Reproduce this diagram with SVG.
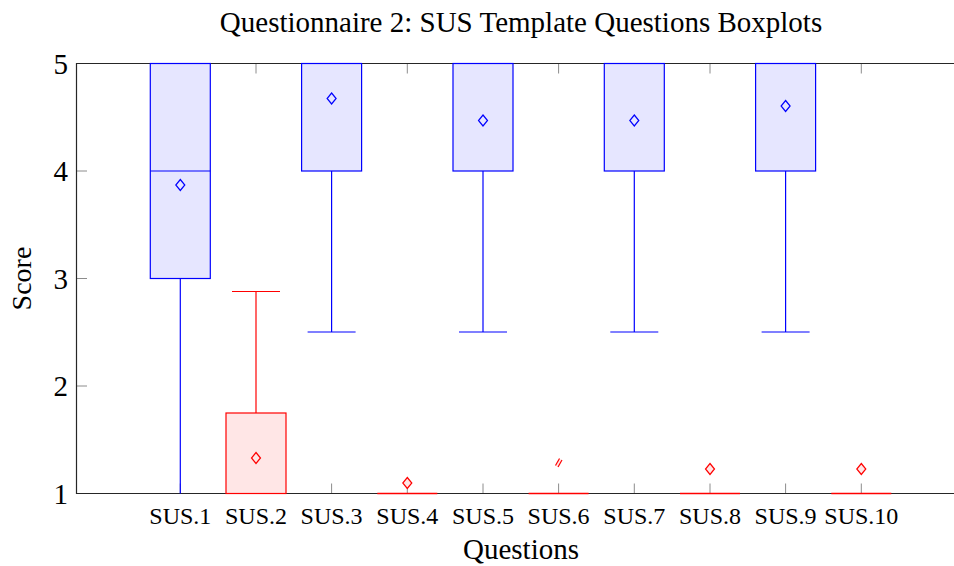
<svg xmlns="http://www.w3.org/2000/svg" width="954" height="566" viewBox="0 0 954 566">
<style>
text{font-family:"Liberation Serif","Times New Roman",serif;fill:#000}
.tl{font-size:29px;text-anchor:end}
.xl{font-size:24px;text-anchor:middle}
.bb{fill:#e6e6ff;stroke:#0000ff;stroke-width:1.2}
.rb{fill:#ffe6e6;stroke:#ff0000;stroke-width:1.2}
.bl{stroke:#0000ff;stroke-width:1.2;fill:none}
.rl{stroke:#ff0000;stroke-width:1.2;fill:none}
.bm{fill:#e6e6ff;stroke:#0000ff;stroke-width:1.2}
.rm{fill:#ffe6e6;stroke:#ff0000;stroke-width:1.2}
.tk{stroke:#8c8c8c;stroke-width:1}
.ax{stroke:#262626;stroke-width:1.2;fill:none}
</style>
<defs>
<path id="dia" d="M0,-5.5 L4.5,0 L0,5.5 L-4.5,0 Z"/>
</defs>
<rect width="954" height="566" fill="#fff"/>
<text x="521" y="32" style="font-size:29px;text-anchor:middle">Questionnaire 2: SUS Template Questions Boxplots</text>
<g id="axis">
<g class="tk">
<line x1="76.5" y1="171" x2="87" y2="171"/>
<line x1="76.5" y1="278.5" x2="87" y2="278.5"/>
<line x1="76.5" y1="386" x2="87" y2="386"/>
<line x1="180.3" y1="63.5" x2="180.3" y2="73.5"/><line x1="180.3" y1="493.5" x2="180.3" y2="483.5"/>
<line x1="256" y1="63.5" x2="256" y2="73.5"/><line x1="256" y1="493.5" x2="256" y2="483.5"/>
<line x1="331.6" y1="63.5" x2="331.6" y2="73.5"/><line x1="331.6" y1="493.5" x2="331.6" y2="483.5"/>
<line x1="407.3" y1="63.5" x2="407.3" y2="73.5"/><line x1="407.3" y1="493.5" x2="407.3" y2="483.5"/>
<line x1="483" y1="63.5" x2="483" y2="73.5"/><line x1="483" y1="493.5" x2="483" y2="483.5"/>
<line x1="558.6" y1="63.5" x2="558.6" y2="73.5"/><line x1="558.6" y1="493.5" x2="558.6" y2="483.5"/>
<line x1="634.3" y1="63.5" x2="634.3" y2="73.5"/><line x1="634.3" y1="493.5" x2="634.3" y2="483.5"/>
<line x1="710" y1="63.5" x2="710" y2="73.5"/><line x1="710" y1="493.5" x2="710" y2="483.5"/>
<line x1="785.6" y1="63.5" x2="785.6" y2="73.5"/><line x1="785.6" y1="493.5" x2="785.6" y2="483.5"/>
<line x1="861.3" y1="63.5" x2="861.3" y2="73.5"/><line x1="861.3" y1="493.5" x2="861.3" y2="483.5"/>
</g>
<path class="ax" d="M954,63.5 H76.5 V493.5 H954"/>
<text class="tl" x="68" y="73.5">5</text>
<text class="tl" x="68" y="181">4</text>
<text class="tl" x="68" y="288.5">3</text>
<text class="tl" x="68" y="396">2</text>
<text class="tl" x="68" y="503.5">1</text>
<text class="xl" x="180.3" y="524">SUS.1</text>
<text class="xl" x="256" y="524">SUS.2</text>
<text class="xl" x="331.6" y="524">SUS.3</text>
<text class="xl" x="407.3" y="524">SUS.4</text>
<text class="xl" x="483" y="524">SUS.5</text>
<text class="xl" x="558.6" y="524">SUS.6</text>
<text class="xl" x="634.3" y="524">SUS.7</text>
<text class="xl" x="710" y="524">SUS.8</text>
<text class="xl" x="785.6" y="524">SUS.9</text>
<text class="xl" x="861.3" y="524">SUS.10</text>
<text x="521" y="559" style="font-size:29px;text-anchor:middle">Questions</text>
<text transform="translate(31,278.5) rotate(-90)" style="font-size:28px;text-anchor:middle">Score</text>
</g>
<g id="sus1">
<line class="bl" x1="180.3" y1="278.5" x2="180.3" y2="493.5"/>
<rect class="bb" x="150.3" y="63.5" width="60" height="215"/>
<line class="bl" x1="150.3" y1="171" x2="210.3" y2="171"/>
<use href="#dia" class="bm" x="180.3" y="185"/>
</g>
<g id="sus2">
<line class="rl" x1="256" y1="291.5" x2="256" y2="413"/>
<line class="rl" x1="232" y1="291.5" x2="280" y2="291.5"/>
<rect class="rb" x="226" y="413" width="60" height="80.5"/>
<use href="#dia" class="rm" x="256" y="458"/>
</g>
<g id="sus3">
<line class="bl" x1="331.6" y1="171" x2="331.6" y2="332"/>
<line class="bl" x1="307.6" y1="332" x2="355.6" y2="332"/>
<rect class="bb" x="301.6" y="63.5" width="60" height="107.5"/>
<use href="#dia" class="bm" x="331.6" y="98.5"/>
</g>
<g id="sus4">
<line class="rl" x1="377.3" y1="493.5" x2="437.3" y2="493.5" style="stroke-width:1.6"/>
<use href="#dia" class="rm" x="407.3" y="483"/>
</g>
<g id="sus5">
<line class="bl" x1="483" y1="171" x2="483" y2="332"/>
<line class="bl" x1="459" y1="332" x2="507" y2="332"/>
<rect class="bb" x="453" y="63.5" width="60" height="107.5"/>
<use href="#dia" class="bm" x="483" y="120.5"/>
</g>
<g id="sus6">
<line class="rl" x1="528.6" y1="493.5" x2="588.6" y2="493.5" style="stroke-width:1.6"/>
<path d="M555.5,465.5 L559.5,458.5 L562,460 L558,467 Z" fill="#ffe6e6"/>
<line class="rl" x1="555.5" y1="465.5" x2="559.5" y2="458.5"/>
<line class="rl" x1="558" y1="467" x2="562" y2="460"/>
</g>
<g id="sus7">
<line class="bl" x1="634.3" y1="171" x2="634.3" y2="332"/>
<line class="bl" x1="610.3" y1="332" x2="658.3" y2="332"/>
<rect class="bb" x="604.3" y="63.5" width="60" height="107.5"/>
<use href="#dia" class="bm" x="634.3" y="120.5"/>
</g>
<g id="sus8">
<line class="rl" x1="680" y1="493.5" x2="740" y2="493.5" style="stroke-width:1.6"/>
<use href="#dia" class="rm" x="710" y="469"/>
</g>
<g id="sus9">
<line class="bl" x1="785.6" y1="171" x2="785.6" y2="332"/>
<line class="bl" x1="761.6" y1="332" x2="809.6" y2="332"/>
<rect class="bb" x="755.6" y="63.5" width="60" height="107.5"/>
<use href="#dia" class="bm" x="785.6" y="106"/>
</g>
<g id="sus10">
<line class="rl" x1="831.3" y1="493.5" x2="891.3" y2="493.5" style="stroke-width:1.6"/>
<use href="#dia" class="rm" x="861.3" y="469"/>
</g>
</svg>
